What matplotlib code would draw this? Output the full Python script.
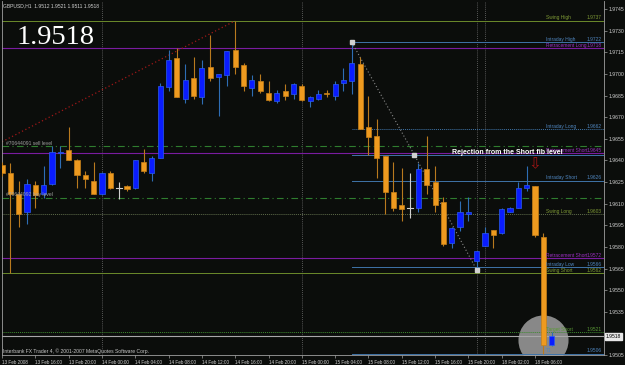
import matplotlib
matplotlib.use('Agg')
import matplotlib.pyplot as plt
from matplotlib.transforms import blended_transform_factory

# GBPUSD H1 bars, 13 Feb 2008 12:00 -> 18 Feb 08:00
opens = [1.9637, 1.9631, 1.9617, 1.9604, 1.9623, 1.9617, 1.9624, 1.9645, 1.9647, 1.9640,
         1.9630, 1.9626, 1.9617, 1.9631, 1.9621, 1.9622, 1.9621, 1.9639, 1.9631, 1.9642,
         1.9691, 1.9711, 1.9683, 1.9697, 1.9684, 1.9705, 1.9698, 1.9699, 1.9717, 1.9706,
         1.9690, 1.9695, 1.9687, 1.9681, 1.9688, 1.9686, 1.9692, 1.9681, 1.9683, 1.9687,
         1.9685, 1.9694, 1.9695, 1.9707, 1.9663, 1.9657, 1.9643, 1.9618, 1.9609, 1.9607,
         1.9607, 1.9634, 1.9625, 1.9611, 1.9583, 1.9594, 1.9603, 1.9570, 1.9581, 1.9592,
         1.9590, 1.9604, 1.9607, 1.9621, 1.9622, 1.9587, 1.9512]
highs = [1.9639, 1.9638, 1.9626, 1.9627, 1.9626, 1.9636, 1.9650, 1.9650, 1.9663, 1.9641,
         1.9633, 1.9639, 1.9632, 1.9633, 1.9625, 1.9623, 1.9640, 1.9648, 1.9643, 1.9694,
         1.9717, 1.9718, 1.9707, 1.9712, 1.9710, 1.9727, 1.9700, 1.9716, 1.9737, 1.9708,
         1.9699, 1.9700, 1.9695, 1.9689, 1.9693, 1.9694, 1.9693, 1.9685, 1.9689, 1.9689,
         1.9695, 1.9704, 1.9722, 1.9712, 1.9685, 1.9669, 1.9643, 1.9639, 1.9635, 1.9631,
         1.9638, 1.9657, 1.9636, 1.9615, 1.9594, 1.9612, 1.9615, 1.9577, 1.9594, 1.9592,
         1.9607, 1.9608, 1.9625, 1.9636, 1.9622, 1.9590, 1.9521]
lows = [1.9629, 1.9562, 1.9594, 1.9596, 1.9607, 1.9614, 1.9623, 1.9635, 1.9640, 1.9621,
        1.9621, 1.9617, 1.9616, 1.9620, 1.9613, 1.9619, 1.9620, 1.9631, 1.9626, 1.9642,
        1.9688, 1.9684, 1.9680, 1.9683, 1.9679, 1.9695, 1.9671, 1.9692, 1.9700, 1.9688,
        1.9685, 1.9687, 1.9681, 1.9680, 1.9682, 1.9683, 1.9681, 1.9677, 1.9682, 1.9684,
        1.9682, 1.9688, 1.9686, 1.9662, 1.9644, 1.9628, 1.9603, 1.9605, 1.9598, 1.9600,
        1.9604, 1.9617, 1.9604, 1.9581, 1.9579, 1.9591, 1.9598, 1.9564, 1.9581, 1.9579,
        1.9589, 1.9604, 1.9607, 1.9619, 1.9587, 1.9506, 1.9511]
closes = [1.9631, 1.9617, 1.9603, 1.9624, 1.9616, 1.9623, 1.9646, 1.9646, 1.9640, 1.9630,
          1.9627, 1.9617, 1.9631, 1.9621, 1.9621, 1.9620, 1.9640, 1.9633, 1.9642, 1.9692,
          1.9710, 1.9684, 1.9696, 1.9685, 1.9704, 1.9697, 1.9700, 1.9716, 1.9705, 1.9692,
          1.9696, 1.9688, 1.9682, 1.9687, 1.9685, 1.9693, 1.9682, 1.9684, 1.9686, 1.9686,
          1.9693, 1.9696, 1.9708, 1.9662, 1.9656, 1.9642, 1.9618, 1.9607, 1.9606, 1.9607,
          1.9634, 1.9623, 1.9609, 1.9582, 1.9593, 1.9604, 1.9604, 1.9577, 1.9590, 1.9588,
          1.9606, 1.9607, 1.9621, 1.9623, 1.9588, 1.9512, 1.9518]

tick_bars = [0, 4, 8, 12, 16, 20, 24, 28, 32, 36, 40, 44, 48, 52, 56, 60, 64]
tick_labels = ['13 Feb 2008', '13 Feb 16:00', '13 Feb 20:00', '14 Feb 00:00', '14 Feb 04:00',
               '14 Feb 08:00', '14 Feb 12:00', '14 Feb 16:00', '14 Feb 20:00', '15 Feb 00:00',
               '15 Feb 04:00', '15 Feb 08:00', '15 Feb 12:00', '15 Feb 16:00', '15 Feb 20:00',
               '18 Feb 02:00', '18 Feb 06:00']
price_ticks = [1.9505, 1.9520, 1.9535, 1.9550, 1.9565, 1.9580, 1.9595, 1.9610, 1.9625,
               1.9640, 1.9655, 1.9670, 1.9685, 1.9700, 1.9715, 1.9730, 1.9745]
day_separators = [12, 36, 57, 58]

# pivot / fib levels drawn by the indicator
level_names = ['Swing High', 'Intraday High', 'Retracement Long', 'Intraday Long',
               'Retracement Short', '', 'Intraday Short', 'Swing Long', 'Retracement Short',
               'Intraday Low', 'Swing Short', 'Target Short', 'T1']
level_prices = [1.9737, 1.9722, 1.9718, 1.9662, 1.9645, 1.9644, 1.9626, 1.9603, 1.9572,
                1.9566, 1.9562, 1.9521, 1.9506]
level_kinds = ['swing', 'intraday', 'retr', 'intraday_dot', 'retr', 'intraday', 'intraday',
               'swing_dot', 'retr', 'intraday', 'swing', 'target', 'intraday']
level_from = [0, 42, 0, 42, 0, 42, 42, 0, 0, 42, 0, 0, 42]

order_names = ['#70644091 sell level', '#70644092 buy level']
order_prices = [1.9650, 1.9614]

trend_bars = [0, 28]
trend_prices = [1.9653, 1.9737]
fib_bars = [42, 49.5, 57]
fib_prices = [1.9722, 1.9644, 1.9564]

last_price = 1.9518

styles = {
    'swing': dict(color='#6b8a2a', ls='-', lw=0.7),
    'swing_dot': dict(color='#5e6b4a', ls=(0, (1, 1)), lw=0.7),
    'retr': dict(color='#7a1ca0', ls='-', lw=0.8),
    'intraday': dict(color='#3f74a8', ls='-', lw=0.7),
    'intraday_dot': dict(color='#3f74a8', ls=(0, (1, 1)), lw=0.7),
    'target': dict(color='#3d8a2e', ls=(0, (1, 1)), lw=0.7),
}
label_col = {'swing': '#7f9a35', 'swing_dot': '#7f9a35', 'retr': '#9a30c0',
             'intraday': '#4f86c0', 'intraday_dot': '#4f86c0', 'target': '#5a9a35'}

bg = '#0b0d0b'
small = 'Liberation Sans'

fig = plt.figure(figsize=(6.25, 3.65), dpi=100, facecolor=bg)
ax = fig.add_axes([2 / 625, 10 / 365, 602 / 625, 354 / 365], facecolor=bg)
n = len(opens)
ax.set_xlim(0.036, 72.28)
ax.set_ylim(1.95098, 1.97507)

trans = blended_transform_factory(ax.transAxes, ax.transData)

# horizontal levels
for name, p, kind, start in zip(level_names, level_prices, level_kinds, level_from):
    st = styles[kind]
    ax.plot([start, 72.28], [p, p], color=st['color'], ls=st['ls'], lw=st['lw'], zorder=2)
    if name:
        ax.text(0.904, p + 0.00002, name, transform=trans, fontsize=3.5, family=small,
                color=label_col[kind], va='bottom', ha='left', zorder=6)
        ax.text(0.9967, p + 0.00002, '%.4f' % p, transform=trans, fontsize=3.5, family=small,
                color=label_col[kind], va='bottom', ha='right', zorder=6)

for name, p in zip(order_names, order_prices):
    ax.axhline(p, color='#2f7d2f', ls=(0, (6, 3, 1, 3)), lw=0.8, zorder=2)
    ax.text(0.006, p + 0.00004, name, transform=trans, fontsize=3.6, family=small,
            color='#a0a0a0', va='bottom', ha='left', zorder=6)

# current price line
ax.axhline(last_price, color='#a8a8a8', lw=0.8, zorder=2)

for s in day_separators:
    ax.axvline(s, color='#707070', ls=(0, (1, 1.5)), lw=0.6, zorder=1)

# trend line and fib zigzag
ax.plot(trend_bars, trend_prices, color='#a01818', ls=(0, (1, 2)), lw=0.9, zorder=2)
ax.plot(fib_bars, fib_prices, color='#8a8a8a', ls=(0, (1, 2)), lw=0.8, zorder=2)
ax.plot(fib_bars, fib_prices, ls='none', marker='s', ms=2.2, color='#d0d0d0', zorder=7)

# highlight circle around last bars
ax.scatter([65], [1.95154], s=1300, color='#a8a8a8', alpha=0.8, lw=0, zorder=1.5)

# candles
for i in range(n):
    o, h, l, c = opens[i], highs[i], lows[i], closes[i]
    if c > o:
        body, edge, wick = '#0a1cff', '#2a5cf0', '#2e6db4'
    elif c < o:
        body, edge, wick = '#ee9a1f', '#c88018', '#b97a1e'
    else:
        body, edge, wick = '#d0d0d0', '#d0d0d0', '#d0d0d0'
    ax.plot([i, i], [l, h], color=wick, lw=0.8, zorder=4, solid_capstyle='butt')
    if c == o:
        ax.plot([i - 0.35, i + 0.35], [o, o], color=body, lw=0.8, zorder=5)
    else:
        ht = max(abs(c - o), 0.00008)
        ax.bar(i, ht, bottom=min(o, c), width=0.62, color=body, edgecolor=edge,
               linewidth=0.5, zorder=5)

# axes look
ax.spines['top'].set_visible(False)
for side in ['left', 'right', 'bottom']:
    ax.spines[side].set_color('#a0a0a0')
    ax.spines[side].set_linewidth(0.6)

ax.yaxis.tick_right()
ax.set_yticks(price_ticks)
# the 1.9520 label sits under the current price box
ax.set_yticklabels(['' if abs(t - 1.9520) < 1e-6 else '%.4f' % t for t in price_ticks])
ax.set_xticks(tick_bars)
ax.set_xticklabels(tick_labels)
ax.tick_params(axis='both', colors='#a0a0a0', labelcolor='#d0d0d0', labelsize=3.3,
               length=2, width=0.5, pad=1.5)
for lab in ax.get_xticklabels():
    lab.set_ha('left')
    lab.set_family(small)
for lab in ax.get_yticklabels():
    lab.set_family(small)
    lab.set_fontsize(3.7)

ax.text(1.003, last_price, '%.4f' % last_price, transform=trans, fontsize=3.6, family=small,
        color='black', va='center', ha='left', zorder=8, clip_on=False,
        bbox=dict(boxstyle='square,pad=0.25', fc='#e8e8e8', ec='#e8e8e8'))

# annotations
ax.text(54, 1.96458, 'Rejection from the Short fib level', fontsize=5, family=small,
        weight='bold', color='white', va='center', ha='left', zorder=8)
ax.text(64, 1.9638, '\u21e9', fontsize=11, family='DejaVu Sans', color='#a01414',
        va='center', ha='center', zorder=8)

fig.text(3 / 625, 1 - 6 / 365, 'GBPUSD,H1  1.9512 1.9521 1.9511 1.9518', fontsize=3.6,
         family=small, color='#d0d0d0', va='center', ha='left')
fig.text(17 / 625, 1 - 43.5 / 365, '%.4f' % last_price, fontsize=20.5, family='Liberation Serif',
         color='white', va='baseline', ha='left')
fig.text(3 / 625, 1 - 351.5 / 365,
         'Interbank FX Trader 4, \u00a9 2001-2007 MetaQuotes Software Corp.',
         fontsize=3.6, family=small, color='#c8c8c8', va='center', ha='left')

fig.savefig('out.png', dpi=100, facecolor=bg)
